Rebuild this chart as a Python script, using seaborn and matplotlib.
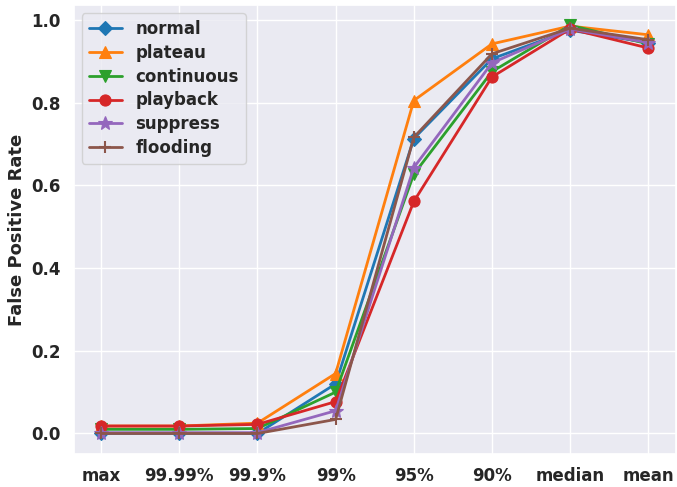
import matplotlib
matplotlib.use("Agg")
import matplotlib.pyplot as plt
import seaborn as sns
import pandas as pd

thresholds = ["max", "99.99%", "99.9%", "99%", "95%", "90%", "median", "mean"]

normal = [0.0, 0.0, 0.0, 0.12, 0.713, 0.906, 0.975, 0.945]
plateau = [0.018, 0.018, 0.025, 0.145, 0.805, 0.942, 0.985, 0.964]
continuous = [0.01, 0.01, 0.012, 0.10, 0.627, 0.875, 0.987, 0.942]
playback = [0.018, 0.018, 0.022, 0.077, 0.561, 0.862, 0.978, 0.932]
suppress = [0.002, 0.002, 0.002, 0.055, 0.643, 0.896, 0.978, 0.945]
flooding = [0.0, 0.0, 0.0, 0.034, 0.716, 0.918, 0.98, 0.952]

series_names = ["normal", "plateau", "continuous", "playback", "suppress", "flooding"]
series_values = [normal, plateau, continuous, playback, suppress, flooding]
markers = ["D", "^", "v", "o", "*", "+"]
marker_sizes = [7, 8, 8, 8, 10, 9]

sns.set_theme(style="darkgrid")
palette = sns.color_palette("tab10")

fig = plt.figure(figsize=(6.77, 4.87), dpi=100)
ax = fig.add_axes([0.109, 0.068, 0.889, 0.922])

for i, (name, vals) in enumerate(zip(series_names, series_values)):
    df = pd.DataFrame({"x": list(range(len(thresholds))), "y": vals})
    sns.lineplot(data=df, x="x", y="y", ax=ax, color=palette[i],
                 marker=markers[i], markersize=marker_sizes[i],
                 markeredgewidth=1.5 if markers[i] == "+" else 0.8,
                 markeredgecolor=palette[i],
                 linewidth=2, label=name)

ax.set_xticks(range(len(thresholds)))
ax.set_xticklabels(thresholds, fontsize=12, fontweight="bold")
ax.set_yticks([0.0, 0.2, 0.4, 0.6, 0.8, 1.0])
ax.set_yticklabels(["0.0", "0.2", "0.4", "0.6", "0.8", "1.0"], fontsize=12, fontweight="bold")
ax.set_xlabel("")
ax.set_ylabel("False Positive Rate", fontsize=13, fontweight="bold")

leg = ax.legend(loc="upper left", prop={"size": 12, "weight": "bold"},
                labelspacing=0.35)

fig.savefig("out.png", dpi=100)
